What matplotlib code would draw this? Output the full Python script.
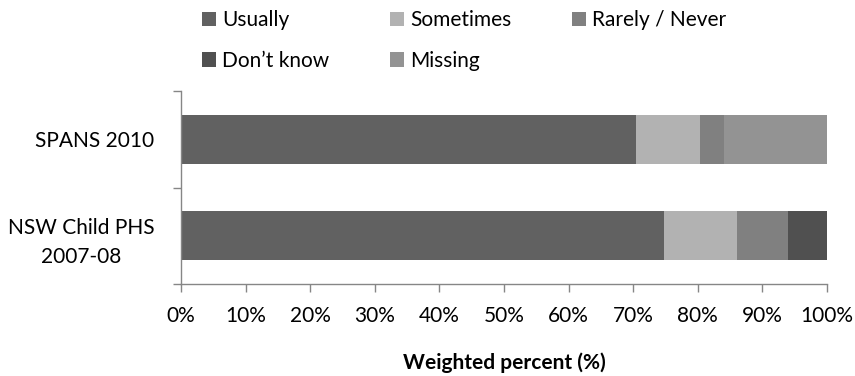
import matplotlib
matplotlib.use("Agg")
import matplotlib.pyplot as plt
from matplotlib.ticker import FixedLocator, PercentFormatter

plt.rcParams['font.family'] = ['Lato', 'DejaVu Sans']

surveys = ["NSW Child PHS\n2007-08", "SPANS 2010"]
responses = ["Usually", "Sometimes", "Rarely / Never", "Don\u2019t know", "Missing"]
usually = [74.7, 70.5]
sometimes = [11.3, 9.9]
rarely_never = [8.0, 3.6]
dont_know = [6.0, 0.0]
missing = [0.0, 16.0]
x_ticks = [0, 10, 20, 30, 40, 50, 60, 70, 80, 90, 100]

series = [usually, sometimes, rarely_never, dont_know, missing]
colors = ["#616161", "#b2b2b2", "#808080", "#505050", "#939393"]
axis_gray = "#868686"
fs = 15

fig = plt.figure(figsize=(8.55, 3.76), dpi=100)
ax = fig.add_axes([181 / 855, 1 - 284 / 376, 646 / 855, 193 / 376])

ypos = list(range(len(surveys)))
left = [0.0] * len(surveys)
handles = []
for name, vals, col in zip(responses, series, colors):
    bars = ax.barh(ypos, vals, left=left, height=0.51, color=col,
                   edgecolor="none", label=name)
    handles.append(bars)
    left = [a + b for a, b in zip(left, vals)]

ax.set_xlim(0, 100)
ax.set_ylim(-0.5, len(surveys) - 0.5)

ax.xaxis.set_major_locator(FixedLocator(x_ticks))
ax.xaxis.set_major_formatter(PercentFormatter(decimals=0))

# category separators as major ticks, names on minor ticks
ax.yaxis.set_major_locator(FixedLocator([-0.5, 0.5, 1.5]))
ax.yaxis.set_major_formatter(plt.NullFormatter())
ax.yaxis.set_minor_locator(FixedLocator(ypos))
ax.set_yticklabels(surveys, minor=True)

for s in ("top", "right"):
    ax.spines[s].set_visible(False)
for s in ("left", "bottom"):
    ax.spines[s].set_color(axis_gray)
    ax.spines[s].set_linewidth(1.0)

ax.tick_params(axis="x", which="major", length=6, color=axis_gray,
               width=1.0, labelsize=fs, pad=10, labelcolor="black")
ax.tick_params(axis="y", which="major", length=6, color=axis_gray, width=1.0)
ax.tick_params(axis="y", which="minor", length=0, labelsize=fs, pad=19,
               labelcolor="black")
for t in ax.get_yticklabels(minor=True):
    t.set_horizontalalignment("right")
    t.set_multialignment("center")
    t.set_linespacing(1.6)

ax.set_xlabel("Weighted percent (%)", fontsize=fs, fontweight="bold", labelpad=19)

order = [0, 3, 1, 4, 2]
leg = fig.legend([handles[i] for i in order], [responses[i] for i in order],
                 ncol=3, loc="upper left", bbox_to_anchor=(202 / 855, 1 - 10 / 376),
                 frameon=False, fontsize=fs, handlelength=0.68, handleheight=0.68,
                 handletextpad=0.3, columnspacing=2.9, labelspacing=1.0,
                 borderpad=0.0, borderaxespad=0.0)

fig.savefig("out.png", dpi=100)
